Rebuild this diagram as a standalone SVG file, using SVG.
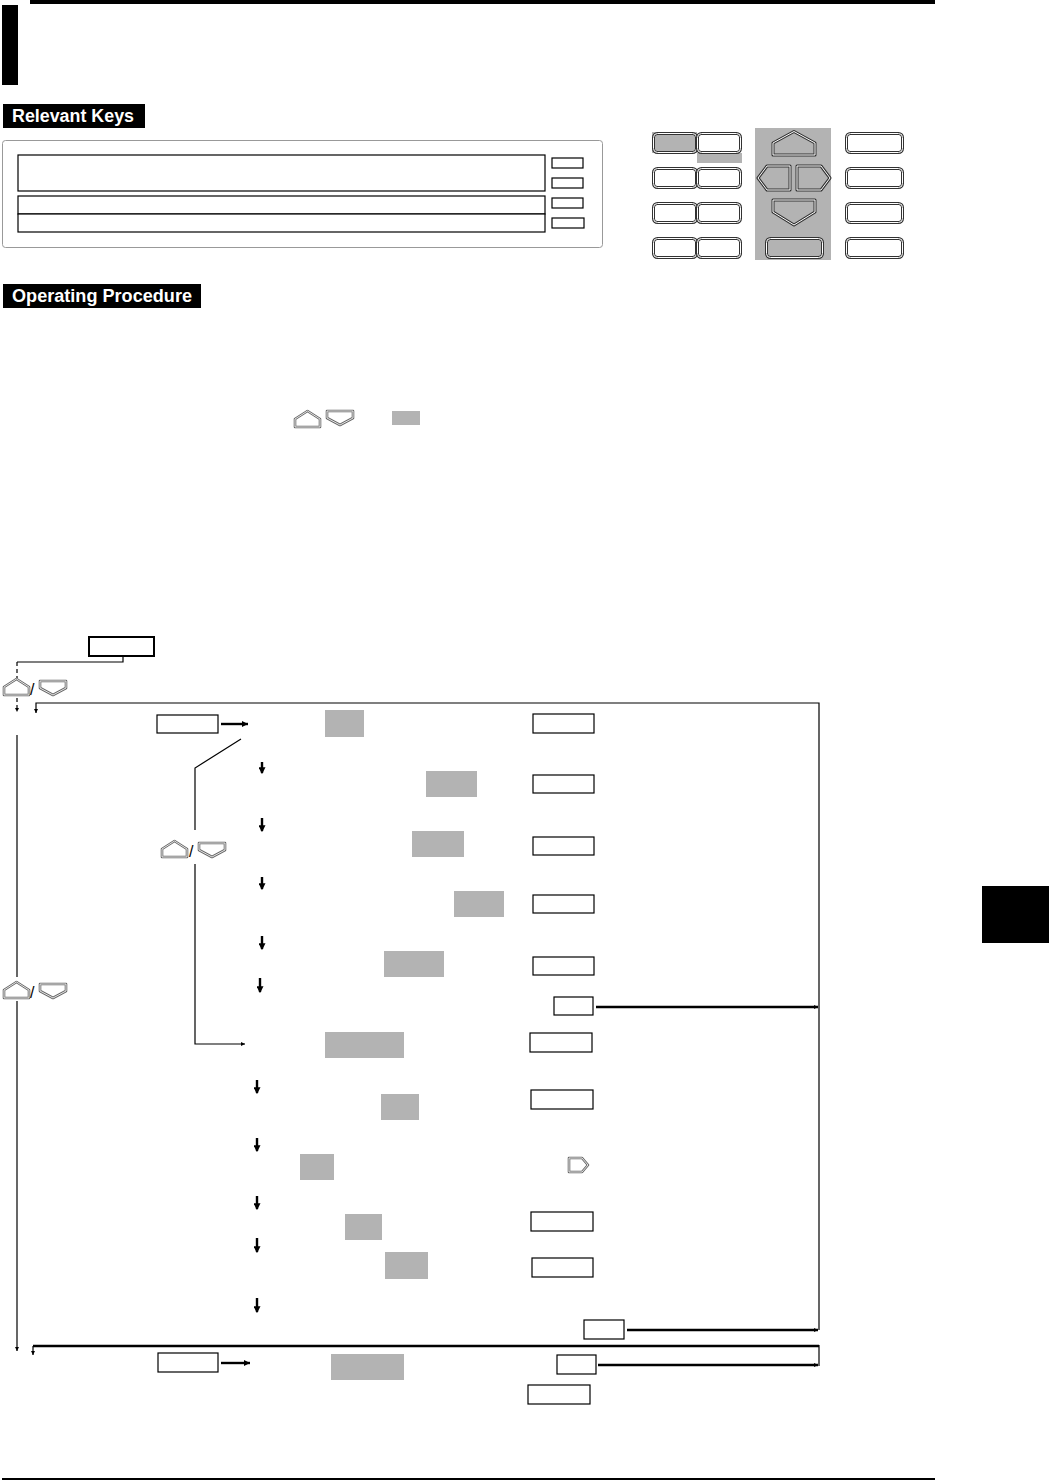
<svg xmlns="http://www.w3.org/2000/svg" xmlns:xlink="http://www.w3.org/1999/xlink" width="1049" height="1481" viewBox="0 0 1049 1481">
<style>
.bx{fill:#fff;stroke:#000;stroke-width:1.2}
.gr{fill:#b3b3b3;stroke:none}
.ko{fill:none;stroke:#333;stroke-width:3;stroke-linejoin:round}
.ki{fill:none;stroke:#fff;stroke-width:1;stroke-linejoin:round}
.go{fill:none;stroke:#666;stroke-width:2.6;stroke-linejoin:round}
.gi{fill:none;stroke:#f4f4f4;stroke-width:0.9;stroke-linejoin:round}
.ln{fill:none;stroke:#000;stroke-width:1.2}
.th{fill:none;stroke:#000;stroke-width:2.4}
.lbl{font-family:"Liberation Sans",Arial,sans-serif;font-weight:bold;font-size:18px;fill:#fff}
.sl{font-family:"Liberation Sans",Arial,sans-serif;font-size:16px;fill:#000}
</style>
<defs>
<marker id="ah" viewBox="0 0 6 6" refX="6" refY="3" markerWidth="6" markerHeight="6" markerUnits="userSpaceOnUse" orient="auto"><path d="M0,0 L6,3 L0,6 Z" fill="#000"/></marker>
<marker id="ahd" viewBox="0 0 6 6" refX="5" refY="3" markerWidth="7" markerHeight="7" markerUnits="userSpaceOnUse" orient="auto"><path d="M0,0 L6,3 L0,6 Z" fill="#000"/></marker>
<marker id="ahs" viewBox="0 0 6 6" refX="6" refY="3" markerWidth="4" markerHeight="4" markerUnits="userSpaceOnUse" orient="auto"><path d="M0,0 L6,3 L0,6 Z" fill="#000"/></marker>
<path id="kUp" d="M1,17 V9 L13.5,1 L26,9 V17 Z"/>
<path id="kDn" d="M1,1 H27 V8 L14,15 L1,8 Z"/>
<path id="kRt" d="M1,1 H14 L20,8 L14,15 H1 Z"/>
</defs>

<g id="page">
<rect x="30" y="0" width="905" height="4" fill="#000"/>
<rect x="2" y="5" width="16" height="80" fill="#000"/>
<rect x="982" y="886" width="67" height="57" fill="#000"/>
<rect x="2" y="1478" width="933" height="2" fill="#000"/>
</g>

<g id="label-relevant-keys">
<rect x="3" y="104" width="142" height="24" fill="#000"/>
<text class="lbl" x="12" y="122" textLength="122" lengthAdjust="spacingAndGlyphs">Relevant Keys</text>
</g>

<g id="display-panel">
<rect x="2.5" y="140.5" width="600" height="107" rx="3" fill="#fff" stroke="#999" stroke-width="1"/>
<rect class="bx" x="18" y="155" width="527" height="36"/>
<rect class="bx" x="18" y="196" width="527" height="18"/>
<rect class="bx" x="18" y="214" width="527" height="18"/>
<rect class="bx" x="552" y="158" width="31" height="10"/>
<rect class="bx" x="552" y="178" width="31" height="10"/>
<rect class="bx" x="552" y="198" width="31" height="10"/>
<rect class="bx" x="552" y="218" width="32" height="10"/>
</g>

<g id="keypad">
<rect class="gr" x="755" y="128" width="76" height="132"/>
<rect class="gr" x="697" y="153" width="45" height="10"/>
<rect class="gr" x="652" y="132" width="45" height="21"/>
<g>
<rect class="ko" x="653.5" y="133.5" width="43" height="19" rx="4"/><rect class="ki" x="653.5" y="133.5" width="43" height="19" rx="4"/>
<rect class="ko" x="697.5" y="133.5" width="43" height="19" rx="4" style="fill:#fff"/><rect class="ki" x="697.5" y="133.5" width="43" height="19" rx="4"/>
<rect class="ko" x="653.5" y="168.5" width="43" height="19" rx="4" style="fill:#fff"/><rect class="ki" x="653.5" y="168.5" width="43" height="19" rx="4"/>
<rect class="ko" x="697.5" y="168.5" width="43" height="19" rx="4" style="fill:#fff"/><rect class="ki" x="697.5" y="168.5" width="43" height="19" rx="4"/>
<rect class="ko" x="653.5" y="203.5" width="43" height="19" rx="4" style="fill:#fff"/><rect class="ki" x="653.5" y="203.5" width="43" height="19" rx="4"/>
<rect class="ko" x="697.5" y="203.5" width="43" height="19" rx="4" style="fill:#fff"/><rect class="ki" x="697.5" y="203.5" width="43" height="19" rx="4"/>
<rect class="ko" x="653.5" y="238.5" width="43" height="19" rx="4" style="fill:#fff"/><rect class="ki" x="653.5" y="238.5" width="43" height="19" rx="4"/>
<rect class="ko" x="697.5" y="238.5" width="43" height="19" rx="4" style="fill:#fff"/><rect class="ki" x="697.5" y="238.5" width="43" height="19" rx="4"/>
</g>
<g>
<rect class="ko" x="846.5" y="133.5" width="56" height="19" rx="4" style="fill:#fff"/><rect class="ki" x="846.5" y="133.5" width="56" height="19" rx="4"/>
<rect class="ko" x="846.5" y="168.5" width="56" height="19" rx="4" style="fill:#fff"/><rect class="ki" x="846.5" y="168.5" width="56" height="19" rx="4"/>
<rect class="ko" x="846.5" y="203.5" width="56" height="19" rx="4" style="fill:#fff"/><rect class="ki" x="846.5" y="203.5" width="56" height="19" rx="4"/>
<rect class="ko" x="846.5" y="238.5" width="56" height="19" rx="4" style="fill:#fff"/><rect class="ki" x="846.5" y="238.5" width="56" height="19" rx="4"/>
</g>
<g>
<path class="ko" d="M773,155 V143 L794,131.5 L815,143 V155 Z"/><path class="ki" d="M773,155 V143 L794,131.5 L815,143 V155 Z"/>
<path class="ko" d="M790,166 H767 L758,178 L767,190 H790 Z"/><path class="ki" d="M790,166 H767 L758,178 L767,190 H790 Z"/>
<path class="ko" d="M797,166 H821 L830,178 L821,190 H797 Z"/><path class="ki" d="M797,166 H821 L830,178 L821,190 H797 Z"/>
<path class="ko" d="M773,200 H815 V212 L794,225 L773,212 Z"/><path class="ki" d="M773,200 H815 V212 L794,225 L773,212 Z"/>
<rect class="ko" x="766.5" y="238.5" width="56" height="19" rx="4"/><rect class="ki" x="766.5" y="238.5" width="56" height="19" rx="4"/>
</g>
</g>

<g id="label-operating-procedure">
<rect x="3" y="284" width="198" height="24" fill="#000"/>
<text class="lbl" x="12" y="302" textLength="180" lengthAdjust="spacingAndGlyphs">Operating Procedure</text>
</g>

<g id="inline-keys">
<use href="#kUp" class="go" x="294" y="410" style="fill:#fff"/><use href="#kUp" class="gi" x="294" y="410"/>
<use href="#kDn" class="go" x="326" y="410" style="fill:#fff"/><use href="#kDn" class="gi" x="326" y="410"/>
<rect class="gr" x="392" y="411" width="28" height="14"/>
</g>

<g id="connectors">
<path class="ln" d="M123,656 V662 H17"/>
<path class="ln" d="M17,662 V678" stroke-dasharray="4 3"/>
<path class="ln" d="M17,698 V712" stroke-dasharray="4 3" marker-end="url(#ahs)"/>
<path class="ln" d="M819,1330 V703 H36 V713" marker-end="url(#ahs)"/>
<path class="ln" d="M17,735 V977"/>
<path class="ln" d="M17,1001 V1351" marker-end="url(#ahs)"/>
<path class="ln" d="M241,739 L195,768 V830"/>
<path class="ln" d="M195,864 V1044 H245" marker-end="url(#ahs)"/>
<path class="th" d="M221,724 H248" marker-end="url(#ah)"/>
<path class="th" d="M221,1363 H250" marker-end="url(#ah)"/>
<path class="th" d="M596,1007 H818" marker-end="url(#ahs)"/>
<path class="th" d="M627,1330 H818" marker-end="url(#ahs)"/>
<path class="th" d="M598,1365 H818" marker-end="url(#ahs)"/>
<path class="th" d="M819,1346 H33"/>
<path class="ln" d="M819,1345 V1366"/>
<path class="ln" d="M33,1346 V1355" marker-end="url(#ahs)"/>
<g class="th">
<path d="M262,762 V773" marker-end="url(#ahd)"/>
<path d="M262,818 V831" marker-end="url(#ahd)"/>
<path d="M262,877 V889" marker-end="url(#ahd)"/>
<path d="M262,936 V949" marker-end="url(#ahd)"/>
<path d="M260,978 V992" marker-end="url(#ahd)"/>
<path d="M257,1080 V1093" marker-end="url(#ahd)"/>
<path d="M257,1138 V1151" marker-end="url(#ahd)"/>
<path d="M257,1196 V1209" marker-end="url(#ahd)"/>
<path d="M257,1238 V1252" marker-end="url(#ahd)"/>
<path d="M257,1298 V1312" marker-end="url(#ahd)"/>
</g>
</g>

<g id="flow-keys">
<use href="#kUp" class="go" x="3" y="678" style="fill:#fff"/><use href="#kUp" class="gi" x="3" y="678"/>
<text class="sl" x="30" y="695">/</text>
<use href="#kDn" class="go" x="39" y="680" style="fill:#fff"/><use href="#kDn" class="gi" x="39" y="680"/>
<use href="#kUp" class="go" x="161" y="840" style="fill:#fff"/><use href="#kUp" class="gi" x="161" y="840"/>
<text class="sl" x="189" y="857">/</text>
<use href="#kDn" class="go" x="198" y="842" style="fill:#fff"/><use href="#kDn" class="gi" x="198" y="842"/>
<use href="#kUp" class="go" x="3" y="981" style="fill:#fff"/><use href="#kUp" class="gi" x="3" y="981"/>
<text class="sl" x="30" y="998">/</text>
<use href="#kDn" class="go" x="39" y="983" style="fill:#fff"/><use href="#kDn" class="gi" x="39" y="983"/>
<use href="#kRt" class="go" x="568" y="1157" style="fill:#fff"/><use href="#kRt" class="gi" x="568" y="1157"/>
</g>

<g id="node-start"><rect x="89" y="637" width="65" height="19" fill="#fff" stroke="#000" stroke-width="2"/></g>
<g id="node-l1"><rect class="bx" x="157" y="715" width="61" height="18"/></g>
<g id="node-l2"><rect class="bx" x="158" y="1353" width="60" height="19"/></g>

<g id="gray-fields">
<rect class="gr" x="325" y="710" width="39" height="27"/>
<rect class="gr" x="426" y="771" width="51" height="26"/>
<rect class="gr" x="412" y="831" width="52" height="26"/>
<rect class="gr" x="454" y="891" width="50" height="26"/>
<rect class="gr" x="384" y="951" width="60" height="26"/>
<rect class="gr" x="325" y="1032" width="79" height="26"/>
<rect class="gr" x="381" y="1094" width="38" height="26"/>
<rect class="gr" x="300" y="1154" width="34" height="26"/>
<rect class="gr" x="345" y="1214" width="37" height="26"/>
<rect class="gr" x="385" y="1252" width="43" height="27"/>
<rect class="gr" x="331" y="1354" width="73" height="26"/>
</g>

<g id="right-boxes">
<rect class="bx" x="533" y="714" width="61" height="19"/>
<rect class="bx" x="533" y="775" width="61" height="18"/>
<rect class="bx" x="533" y="837" width="61" height="18"/>
<rect class="bx" x="533" y="895" width="61" height="18"/>
<rect class="bx" x="533" y="957" width="61" height="18"/>
<rect class="bx" x="554" y="997" width="39" height="18"/>
<rect class="bx" x="530" y="1033" width="62" height="19"/>
<rect class="bx" x="531" y="1090" width="62" height="19"/>
<rect class="bx" x="531" y="1212" width="62" height="19"/>
<rect class="bx" x="532" y="1258" width="61" height="19"/>
<rect class="bx" x="584" y="1320" width="40" height="19"/>
<rect class="bx" x="557" y="1355" width="39" height="19"/>
<rect class="bx" x="528" y="1385" width="62" height="19"/>
</g>
</svg>
